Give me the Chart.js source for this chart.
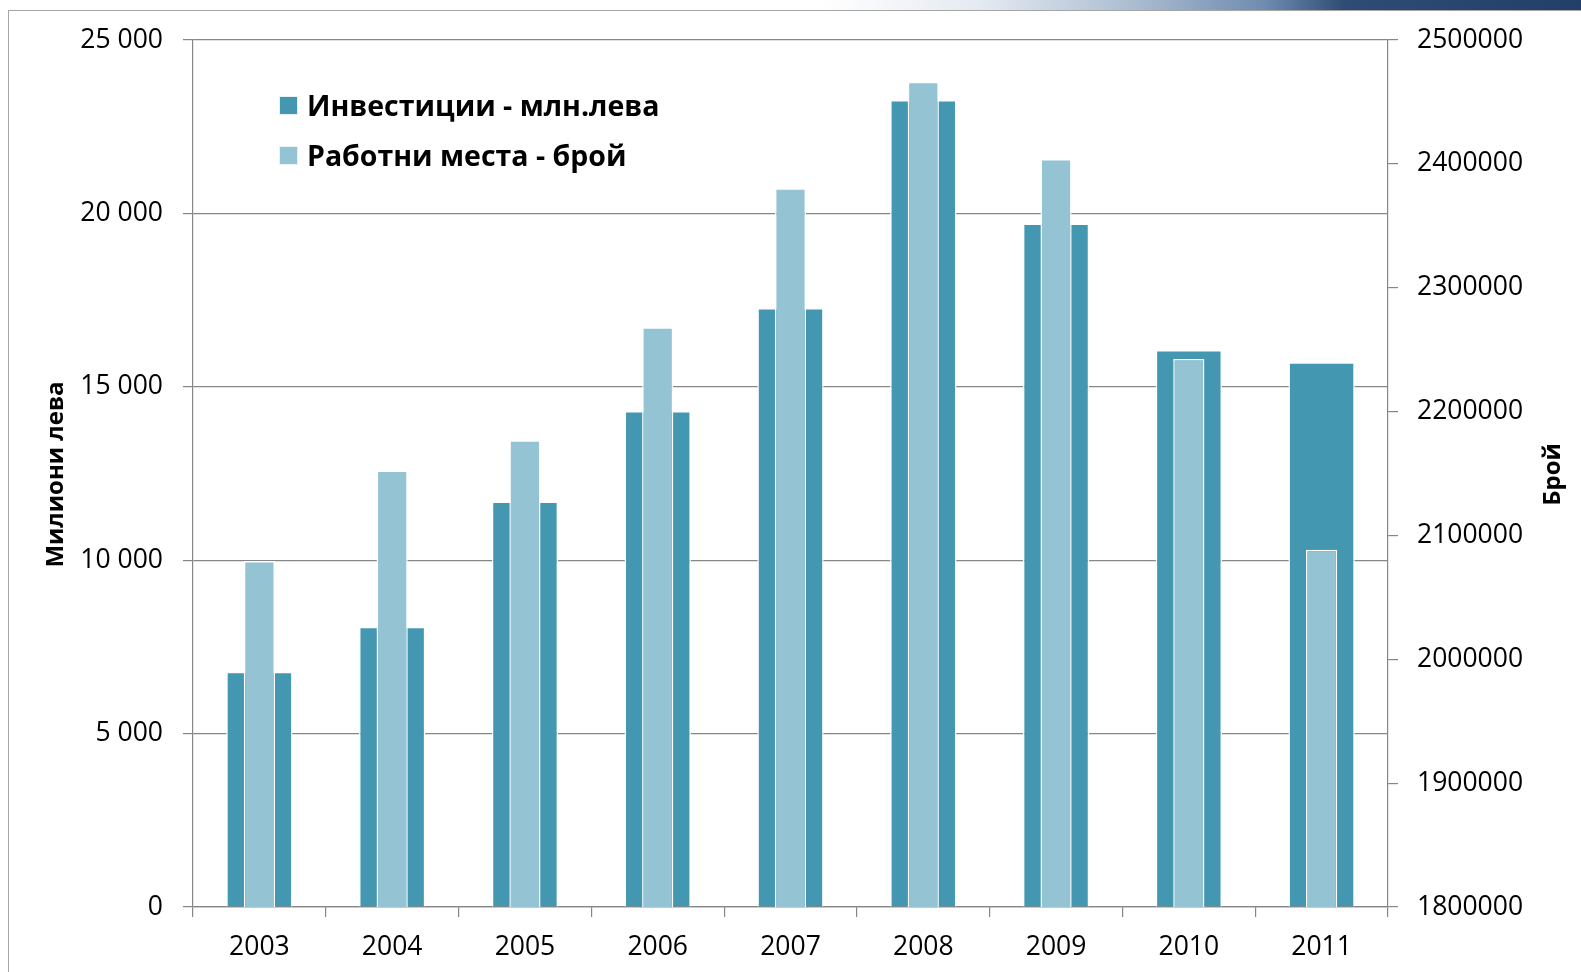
<!DOCTYPE html>
<html lang="bg">
<head>
<meta charset="utf-8">
<title>Инвестиции и работни места</title>
<script src="https://cdn.jsdelivr.net/npm/chart.js@4.4.1/dist/chart.umd.min.js"></script>
<style>
    html, body { margin: 0; padding: 0; background: #fff; }
    #wrap { position: relative; width: 1581px; height: 972px; overflow: hidden; }
    /* рамка на слайда */
    #frame { position: absolute; left: 8px; top: 10px; right: -4px; bottom: -4px;
             border-left: 1px solid #a6a6a6; border-top: 1px solid #a6a6a6; }
    #band { position: absolute; left: 0; top: 0; width: 1581px; height: 10px;
            background: linear-gradient(to right, #fff 0%, #fff 52%, #e4eaf1 62%, #a9bbd0 72%,
                        #6f8bb0 80%, #2f4d74 85%, #223f67 100%); }
    canvas { position: absolute; left: 0; top: 0; }
    #legend { position: absolute; left: 279px; top: 80px; font: bold 28.5px "Open Sans", sans-serif; color: #000; }
    #legend .item { display: flex; align-items: center; height: 50px; }
    #legend .box { width: 17px; height: 17px; margin-right: 9px; border: 1px solid #e8f1f4; }
</style>
</head>
<body>
<div id="wrap">
    <div id="band"></div>
    <div id="frame"></div>
    <canvas id="chartInvest" width="1581" height="972"></canvas>
    <div id="legend"></div>
</div>

<script>
// === Данни (отчетени от графиката) ===
const godini        = ['2003', '2004', '2005', '2006', '2007', '2008', '2009', '2010', '2011'];
const investicii    = [6780, 8080, 11690, 14300, 17270, 23270, 19710, 16060, 15710];          // млн. лева
const rabotniMesta  = [2079400, 2152400, 2176900, 2268000, 2380300, 2466300, 2403900, 2242400, 2088500]; // брой

// деления на осите
const tickoveLevo   = [0, 5000, 10000, 15000, 20000, 25000];
const tickoveDyasno = [1800000, 1900000, 2000000, 2100000, 2200000, 2300000, 2400000, 2500000];

const etiketInvest  = 'Инвестиции - млн.лева';
const etiketMesta   = 'Работни места - брой';
const zaglavieLevo  = 'Милиони лева';
const zaglavieDyasno = 'Брой';

const tymnoSinyo  = '#4397b0';
const svetloSinyo = '#94c3d4';
const sivo        = '#868686';
const shrift      = '"Open Sans", sans-serif';

// "25 000" — разделител за хилядите е интервал
function formatLeva(v) {
    return String(v).replace(/\B(?=(\d{3})+(?!\d))/g, ' ');
}

// Заглавия на осите (и двете се четат отдолу нагоре)
const zaglaviyaNaOsi = {
    id: 'zaglaviyaNaOsi',
    afterDraw(chart) {
        const ctx = chart.ctx;
        const a = chart.chartArea;
        const cy = (a.top + a.bottom) / 2 + 1;
        ctx.save();
        ctx.font = 'bold 24px ' + shrift;
        ctx.fillStyle = '#000';
        ctx.textAlign = 'center';
        ctx.textBaseline = 'middle';

        ctx.save();
        ctx.translate(56, cy);
        ctx.rotate(-Math.PI / 2);
        ctx.fillText(zaglavieLevo, 0, 0);
        ctx.restore();

        ctx.save();
        ctx.translate(1553, cy);
        ctx.rotate(-Math.PI / 2);
        ctx.fillText(zaglavieDyasno, 0, 0);
        ctx.restore();

        ctx.restore();
    }
};

document.addEventListener('DOMContentLoaded', function () {

    const platno = document.getElementById('chartInvest');

    const grafika = new Chart(platno, {
        type: 'bar',
        data: {
            labels: godini,
            datasets: [
                {
                    label: etiketInvest,
                    data: investicii,
                    yAxisID: 'y',
                    backgroundColor: tymnoSinyo,
                    borderColor: '#ffffff',
                    borderWidth: 1.5,
                    grouped: false,
                    categoryPercentage: 1,
                    barPercentage: 0.5,
                    order: 2
                },
                {
                    label: etiketMesta,
                    data: rabotniMesta,
                    yAxisID: 'y1',
                    backgroundColor: svetloSinyo,
                    borderColor: '#ffffff',
                    borderWidth: 1.5,
                    grouped: false,
                    categoryPercentage: 1,
                    barPercentage: 0.235,
                    order: 1           // рисува се отгоре
                }
            ]
        },
        options: {
            responsive: false,
            animation: false,
            layout: { padding: { top: 40, left: 0, right: 0, bottom: 0 } },
            plugins: {
                legend: { display: false },
                tooltip: { enabled: false }
            },
            scales: {
                x: {
                    grid: { drawOnChartArea: false, offset: true, color: sivo, tickLength: 10, lineWidth: 1.2 },
                    border: { color: sivo, width: 1.2 },
                    ticks: { color: '#000', font: { family: shrift, size: 26.5 }, padding: 15 },
                    afterFit: s => { s.height = 65; }
                },
                y: {
                    position: 'left',
                    min: 0,
                    max: 25000,
                    afterBuildTicks: s => { s.ticks = tickoveLevo.map(v => ({ value: v })); },
                    grid: { color: sivo, tickLength: 10, lineWidth: 1.2 },
                    border: { color: sivo, width: 1.2 },
                    ticks: { color: '#000', font: { family: shrift, size: 26.5 }, padding: 20,
                             callback: v => formatLeva(v) },
                    afterFit: s => { s.width = 193; }
                },
                y1: {
                    position: 'right',
                    min: 1800000,
                    max: 2500000,
                    afterBuildTicks: s => { s.ticks = tickoveDyasno.map(v => ({ value: v })); },
                    grid: { drawOnChartArea: false, color: sivo, tickLength: 10, lineWidth: 1.2 },
                    border: { color: sivo, width: 1.2 },
                    ticks: { color: '#000', font: { family: shrift, size: 26.5 }, padding: 19,
                             callback: v => String(v) },
                    afterFit: s => { s.width = 193; }
                }
            }
        },
        plugins: [zaglaviyaNaOsi]
    });

    // Легенда вътре в полето на графиката (HTML)
    const legenda = document.getElementById('legend');
    grafika.data.datasets.forEach(ds => {
        const red = document.createElement('div');
        red.className = 'item';
        const kutiya = document.createElement('span');
        kutiya.className = 'box';
        kutiya.style.background = ds.backgroundColor;
        const tekst = document.createElement('span');
        tekst.textContent = ds.label;
        red.appendChild(kutiya);
        red.appendChild(tekst);
        legenda.appendChild(red);
    });

});
</script>
</body>
</html>
